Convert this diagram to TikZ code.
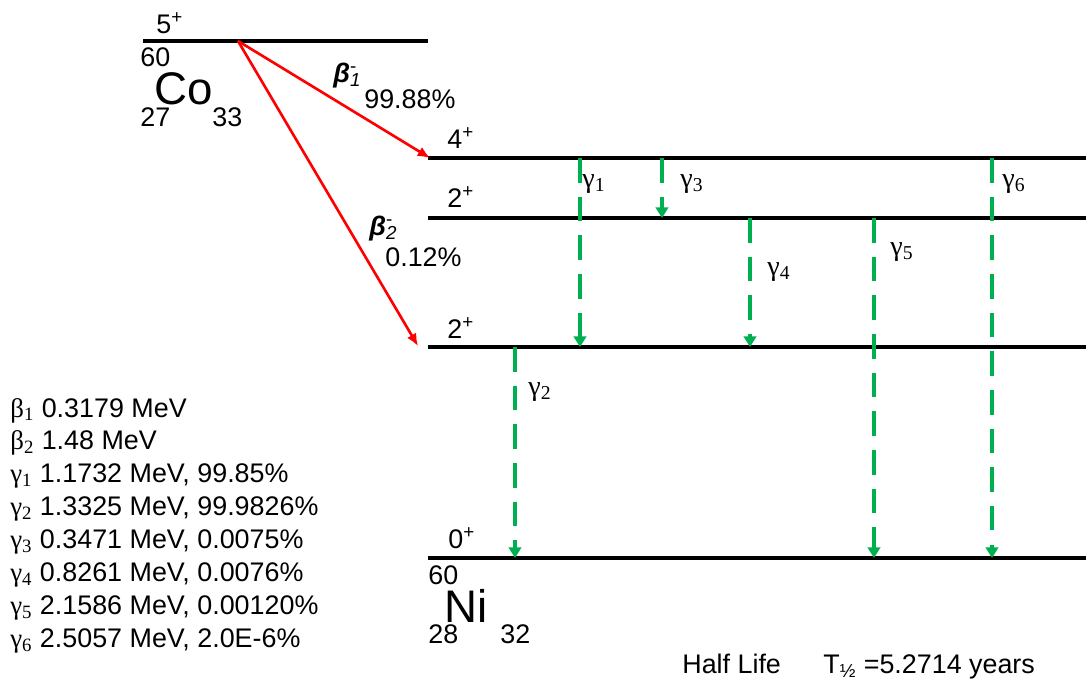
\documentclass[tikz,border=0pt]{standalone}
\usepackage{fontspec}
\setmainfont{Liberation Sans}
\newfontfamily\serif{Liberation Serif}
\usetikzlibrary{arrows.meta}
\definecolor{gammagreen}{RGB}{0,176,80}

\begin{document}
\begin{tikzpicture}[x=0.02cm, y=-0.02cm,
  lvl/.style={line width=2.7pt},
  beta/.style={red, line width=1.5pt, -{Latex[length=7pt,width=6pt]}},
  gam/.style={gammagreen, line width=1.9pt, dash pattern=on 14pt off 8pt, -{Triangle[length=6pt,width=7pt]}},
  lbl/.style={anchor=base west, inner sep=0pt, font=\fontsize{15.3}{18}\selectfont},
  big/.style={anchor=base west, inner sep=0pt, font=\fontsize{26}{30}\selectfont},
  gl/.style={anchor=base west, inner sep=0pt, font=\fontsize{16}{18}\serif}]
  \useasboundingbox (0,0) rectangle (1086,687);

  % levels
  \coordinate (co-l) at (143,41);  \coordinate (co-r) at (428,41);
  \coordinate (l4-l) at (428,158); \coordinate (l4-r) at (1086,158);
  \coordinate (l2a-l) at (428,218); \coordinate (l2a-r) at (1086,218);
  \coordinate (l2b-l) at (428,347); \coordinate (l2b-r) at (1086,347);
  \coordinate (l0-l) at (428,558); \coordinate (l0-r) at (1086,558);
  \draw[lvl] (co-l) -- (co-r);
  \draw[lvl] (l4-l) -- (l4-r);
  \draw[lvl] (l2a-l) -- (l2a-r);
  \draw[lvl] (l2b-l) -- (l2b-r);
  \draw[lvl] (l0-l) -- (l0-r);

  \node[lbl] (spin5) at (156,33) {5\textsuperscript{+}};
  \node[lbl] (spin4) at (447,148) {4\textsuperscript{+}};
  \node[lbl] (spin2a) at (447,207) {2\textsuperscript{+}};
  \node[lbl] (spin2b) at (447,338) {2\textsuperscript{+}};
  \node[lbl] (spin0) at (448,548) {0\textsuperscript{+}};

  % parent and daughter
  \node[lbl] (co-a) at (140,66) {60};
  \node[big] (co) at (154,104) {Co};
  \node[lbl] (co-z) at (140,126) {27};
  \node[lbl] (co-n) at (212,126) {33};
  \node[lbl] (ni-a) at (428,584) {60};
  \node[big] (ni) at (444,622) {Ni};
  \node[lbl] (ni-z) at (428,643) {28};
  \node[lbl] (ni-n) at (500,643) {32};

  % beta branches
  \coordinate (b0) at (238,41);
  \coordinate (b1) at (430,158);
  \coordinate (b2) at (418,346);
  \draw[beta] (b0) -- (b1);
  \draw[beta] (b0) -- (b2);
  \node[lbl] (beta1) at (333,82) {{\bfseries\itshape β}\rlap{\textsuperscript{-}}\textsubscript{\itshape 1}};
  \node[lbl] (br1) at (364,108) {99.88\%};
  \node[lbl] (beta2) at (369,235) {{\bfseries\itshape β}\rlap{\textsuperscript{-}}\textsubscript{\itshape 2}};
  \node[lbl] (br2) at (385,266) {0.12\%};

  % gamma transitions
  \foreach \n/\x/\ya/\yb/\lx/\ly in {1/580/158/347/582/187, 2/515/347/558/528/395,
      3/662/158/218/680/187, 4/750/218/347/767/275, 5/874/218/558/890/255, 6/992/158/558/1002/187} {
    \coordinate (g\n a) at (\x,\ya);
    \coordinate (g\n b) at (\x,\yb);
    \draw[gam] (g\n a) -- (g\n b);
    \node[gl] (gl\n) at (\lx,\ly) {γ\textsubscript{\n}};
  }

  % energies and intensities
  \foreach \s/\k/\t [count=\i from 0] in {β/1/{0.3179 MeV}, β/2/{1.48 MeV},
      γ/1/{1.1732 MeV, 99.85\%}, γ/2/{1.3325 MeV, 99.9826\%}, γ/3/{0.3471 MeV, 0.0075\%},
      γ/4/{0.8261 MeV, 0.0076\%}, γ/5/{2.1586 MeV, 0.00120\%}, γ/6/{2.5057 MeV, 2.0E-6\%}}
    \node[lbl] (leg\i) at (10,{417+32.9*\i}) {{\serif\s\textsubscript{\k}} \t};

  \node[lbl] (hl) at (682,673) {Half Life};
  \node[lbl] (thalf) at (823,673) {T\textsubscript{½} =5.2714 years};
\end{tikzpicture}
\end{document}
